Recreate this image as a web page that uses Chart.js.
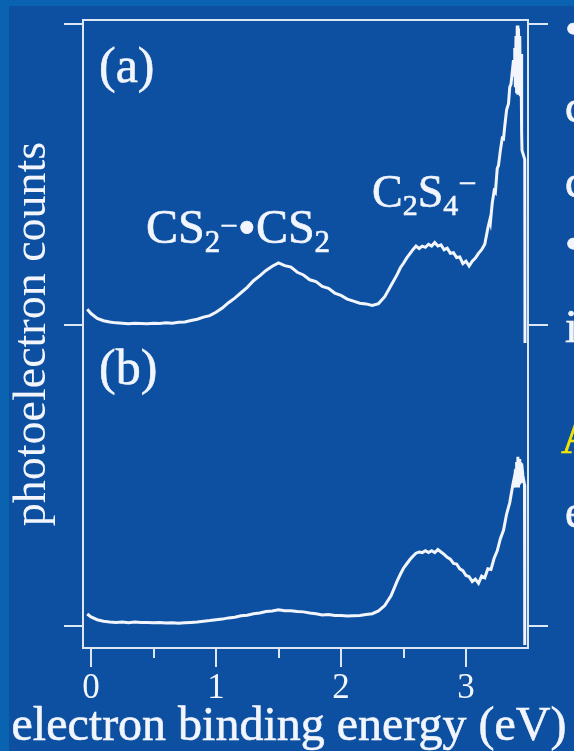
<!DOCTYPE html>
<html>
<head>
<meta charset="utf-8">
<script src="https://cdn.jsdelivr.net/npm/chart.js@4.4.0/dist/chart.umd.min.js"></script>
<style>
  html, body { margin: 0; padding: 0; background: #0a63b1; }
  #wrap { position: relative; width: 574px; height: 751px; overflow: hidden; }
  #panel { position: absolute; left: 9px; top: 6px; right: 0; bottom: 0; background: #0d4fa0; }
  canvas { position: absolute; left: 0; top: 0; }
</style>
</head>
<body>
<div id="wrap"><div id="panel"></div><canvas id="chart" width="574" height="751"></canvas></div>
<script>
/* Photoelectron spectra, (a) over (b), shared energy axis */

// --- Data ---

const energyA = [
  -0.03, 0.00, 0.05, 0.10, 0.15, 0.20, 0.25, 0.30, 0.35, 0.40, 0.45, 0.50, 0.55, 0.60, 0.65,
  0.70, 0.75, 0.80, 0.85, 0.90, 0.95, 1.00, 1.05, 1.10, 1.15, 1.20, 1.25, 1.30, 1.35, 1.40,
  1.45, 1.50, 1.55, 1.60, 1.65, 1.70, 1.75, 1.80, 1.85, 1.90, 1.95, 2.00, 2.05, 2.10, 2.15,
  2.20, 2.25, 2.30, 2.35, 2.40, 2.45, 2.475,
  2.500, 2.525, 2.550, 2.575, 2.600, 2.625, 2.650, 2.675, 2.700, 2.725, 2.750, 2.775, 2.800,
  2.825, 2.850, 2.875, 2.900, 2.925, 2.950, 2.975, 3.000, 3.025, 3.050, 3.075, 3.100, 3.125,
  3.150, 3.165, 3.175, 3.190, 3.195, 3.210, 3.225, 3.235, 3.250, 3.260, 3.275, 3.290, 3.300,
  3.310, 3.325, 3.340, 3.350, 3.360, 3.375, 3.380, 3.385, 3.390, 3.395, 3.400, 3.405, 3.410,
  3.415, 3.420, 3.425, 3.430, 3.435, 3.440, 3.445, 3.448, 3.470, 3.472
];
const countsA = [
  0.052, 0.038, 0.022, 0.014, 0.010, 0.007, 0.006, 0.004, 0.006, 0.005, 0.004, 0.006, 0.005, 0.007, 0.006,
  0.009, 0.010, 0.015, 0.019, 0.026, 0.031, 0.042, 0.056, 0.074, 0.089, 0.107, 0.125, 0.147, 0.163, 0.181,
  0.195, 0.206, 0.197, 0.192, 0.175, 0.166, 0.150, 0.144, 0.128, 0.122, 0.106, 0.098, 0.086, 0.079, 0.072,
  0.070, 0.065, 0.071, 0.094, 0.131, 0.168, 0.190,
  0.205, 0.222, 0.236, 0.250, 0.262, 0.254, 0.262, 0.258, 0.268, 0.262, 0.274, 0.262, 0.266,
  0.250, 0.255, 0.238, 0.240, 0.224, 0.226, 0.204, 0.212, 0.196, 0.212, 0.222, 0.238, 0.250,
  0.268, 0.300, 0.322, 0.348, 0.340, 0.405, 0.445, 0.440, 0.520, 0.530, 0.580, 0.620, 0.618,
  0.660, 0.715, 0.735, 0.790, 0.800, 0.860, 0.880, 0.830, 0.920, 0.790, 0.960, 0.770, 0.995,
  0.765, 0.985, 0.785, 0.960, 0.760, 0.900, 0.640, 0.580, 0.550, -0.060
];

const energyB = [
  -0.03, 0.00, 0.05, 0.10, 0.15, 0.20, 0.25, 0.30, 0.35, 0.40, 0.45, 0.50, 0.55, 0.60, 0.65,
  0.70, 0.75, 0.80, 0.85, 0.90, 0.95, 1.00, 1.05, 1.10, 1.15, 1.20, 1.25, 1.30, 1.35, 1.40,
  1.45, 1.50, 1.55, 1.60, 1.65, 1.70, 1.75, 1.80, 1.85, 1.90, 1.95, 2.00, 2.05, 2.10, 2.15,
  2.20, 2.25, 2.30, 2.35, 2.40, 2.425,
  2.450, 2.475, 2.500, 2.525, 2.550, 2.575, 2.600, 2.625, 2.650, 2.675, 2.700, 2.725, 2.750,
  2.775, 2.800, 2.825, 2.850, 2.875, 2.900, 2.925, 2.950, 2.975, 3.000, 3.025, 3.050, 3.075,
  3.100, 3.125, 3.150, 3.175, 3.200, 3.225, 3.250, 3.275, 3.300, 3.325, 3.350, 3.375, 3.385,
  3.390, 3.395, 3.400, 3.405, 3.410, 3.415, 3.420, 3.425, 3.430, 3.435, 3.440, 3.445, 3.455,
  3.468, 3.470
];
const countsB = [
  0.040, 0.030, 0.021, 0.016, 0.013, 0.012, 0.013, 0.011, 0.013, 0.012, 0.012, 0.011, 0.012, 0.010, 0.011,
  0.009, 0.011, 0.012, 0.013, 0.016, 0.018, 0.021, 0.023, 0.027, 0.029, 0.034, 0.036, 0.041, 0.043, 0.048,
  0.050, 0.054, 0.051, 0.051, 0.048, 0.047, 0.043, 0.041, 0.037, 0.038, 0.035, 0.035, 0.033, 0.034, 0.035,
  0.038, 0.041, 0.050, 0.068, 0.100, 0.125,
  0.150, 0.172, 0.192, 0.206, 0.220, 0.232, 0.242, 0.246, 0.244, 0.250, 0.244, 0.250, 0.244,
  0.254, 0.246, 0.238, 0.228, 0.222, 0.208, 0.206, 0.190, 0.184, 0.168, 0.164, 0.148, 0.156,
  0.142, 0.166, 0.160, 0.190, 0.188, 0.225, 0.250, 0.290, 0.318, 0.372, 0.410, 0.470, 0.490,
  0.460, 0.520, 0.470, 0.545, 0.465, 0.562, 0.460, 0.555, 0.470, 0.545, 0.480, 0.540, 0.500,
  0.470, -0.063
];

const offsetA = 1;                 // panel (a) sits one unit above panel (b)
const xTicks = [0, 1, 2, 3];
const xMinorTicks = [0.5, 1.5, 2.5];
const yTicks = [0, 1, 2];

// --- Helpers ---

const WHITE = '#f2f6fc';
const FRAME = '#dde7f4';
const SERIF = "'Liberation Serif', 'Times New Roman', serif";

function toPoints(xs, ys, shift) {
    return xs.map((x, i) => ({ x, y: ys[i] + shift }));
}

function setTicks(values) {
    return scale => { scale.ticks = values.map(v => ({ value: v })); };
}

function text(ctx, t, x, y) {
    ctx.fillText(t, x, y);
    ctx.strokeText(t, x, y);
}

// text made of pieces: [text, size, dy]
function drawPieces(ctx, pieces, x, y) {
    let cx = x;
    pieces.forEach(([t, size, dy]) => {
        ctx.font = size + 'px ' + SERIF;
        text(ctx, t, cx, y + dy);
        cx += ctx.measureText(t).width;
    });
}

const decor = {
    id: 'decor',
    afterDraw(chart) {
        const { ctx, chartArea } = chart;
        const x = chart.scales.x;
        ctx.save();

        // minor ticks on the energy axis
        ctx.strokeStyle = FRAME;
        ctx.lineWidth = 2;
        xMinorTicks.forEach(v => {
            const px = Math.round(x.getPixelForValue(v));
            ctx.beginPath();
            ctx.moveTo(px, chartArea.bottom);
            ctx.lineTo(px, chartArea.bottom + 10);
            ctx.stroke();
        });

        ctx.fillStyle = WHITE;
        ctx.strokeStyle = WHITE;
        ctx.lineWidth = 0.6;
        ctx.textBaseline = 'alphabetic';
        ctx.textAlign = 'center';
        ctx.font = '48px ' + SERIF;
        text(ctx, 'electron binding energy (eV)', 289, 740);

        ctx.textAlign = 'left';
        ctx.font = '50px ' + SERIF;
        text(ctx, '(a)', 99, 82);
        text(ctx, '(b)', 99, 384);

        drawPieces(ctx, [['CS', 48, 0], ['2', 31, 9], ['\u2212', 31, -7], ['\u2022', 52, 2], ['CS', 48, 0], ['2', 31, 9]], 146, 243);
        drawPieces(ctx, [['C', 46, 0], ['2', 30, 8], ['S', 46, 0], ['4', 30, 8], ['\u2212', 32, -13]], 372, 207);

        // cut-off slide text at the right edge
        ctx.font = '46px ' + SERIF;
        [['\u2022', 44], ['c', 122], ['c', 197], ['\u2022', 259], ['i', 342], ['e', 527]].forEach(([t, by]) => {
            text(ctx, t, 565, by);
        });
        ctx.fillStyle = '#f2e600';
        ctx.strokeStyle = '#f2e600';
        text(ctx, 'A', 561, 453);
        ctx.restore();
    }
};

// --- Chart ---

const axisGrid = { drawOnChartArea: false, color: FRAME, lineWidth: 2, tickLength: 19 };
const axisBorder = { display: true, color: FRAME, width: 2 };

new Chart(document.getElementById('chart').getContext('2d'), {
    type: 'line',
    data: {
        datasets: [
            { data: toPoints(energyA, countsA, offsetA) },
            { data: toPoints(energyB, countsB, 0) },
        ].map(d => ({
            ...d,
            borderColor: WHITE,
            borderWidth: 3,
            pointRadius: 0,
            tension: 0,
            fill: false,
        }))
    },
    options: {
        responsive: false,
        animation: false,
        layout: { padding: { top: 20, left: 0, right: 0, bottom: 0 } },
        plugins: { legend: { display: false }, tooltip: { enabled: false } },
        scales: {
            x: {
                type: 'linear',
                position: 'bottom',
                min: -0.064,
                max: 3.496,
                afterBuildTicks: setTicks(xTicks),
                afterFit: s => { s.height = 103; },
                grid: axisGrid,
                border: axisBorder,
                ticks: {
                    color: WHITE,
                    padding: 1,
                    maxRotation: 0,
                    font: { family: SERIF, size: 35 },
                },
            },
            xTop: {
                type: 'linear',
                position: 'top',
                min: -0.064,
                max: 3.496,
                afterFit: s => { s.height = 0; },
                grid: { display: false },
                border: axisBorder,
                ticks: { display: false },
            },
            y: {
                type: 'linear',
                position: 'left',
                min: -0.073,
                max: 2.013,
                afterBuildTicks: setTicks(yTicks),
                afterFit: s => { s.width = 83; },
                grid: axisGrid,
                border: axisBorder,
                ticks: { display: false },
                title: {
                    display: true,
                    text: 'photoelectron counts',
                    color: WHITE,
                    padding: { top: 5, bottom: 0 },
                    font: { family: SERIF, size: 46 },
                },
            },
            y2: {
                type: 'linear',
                position: 'right',
                min: -0.073,
                max: 2.013,
                afterBuildTicks: setTicks(yTicks),
                afterFit: s => { s.width = 46; },
                grid: { ...axisGrid, tickLength: 20 },
                border: axisBorder,
                ticks: { display: false },
            },
        }
    },
    plugins: [decor]
});
</script>
</body>
</html>
